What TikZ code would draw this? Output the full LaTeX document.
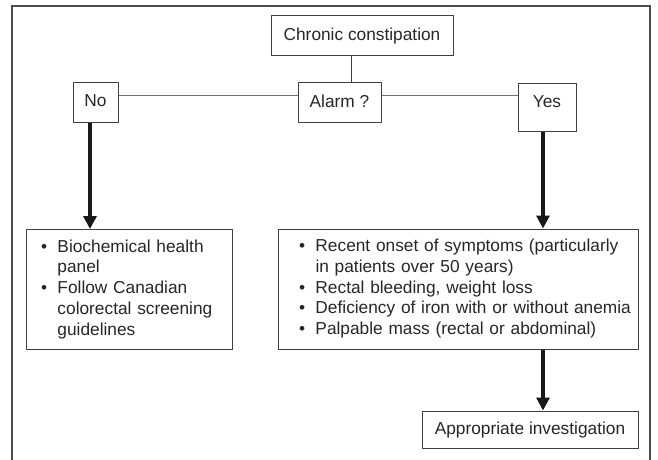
\documentclass[tikz,border=0pt]{standalone}
\usepackage{fontspec}
\setmainfont{Liberation Sans}
\usetikzlibrary{arrows.meta,positioning}

\begin{document}
\begin{tikzpicture}[x=1pt, y=-1pt,
  bx/.style={draw=black!75, line width=1pt, inner xsep=0pt, inner ysep=11.5pt,
    text height=13pt, text depth=4pt, text=black!85, font=\fontsize{17.3}{20.7}\selectfont},
  lst/.style={draw=black!75, line width=1pt, anchor=north west, align=left,
    minimum height=120pt, inner ysep=0pt, text=black!85, font=\fontsize{17.3}{20.7}\selectfont},
  lnk/.style={draw=black!55, line width=0.9pt},
  arr/.style={-{Triangle[length=13pt,width=13pt]}, line width=4pt, black!90}]
\useasboundingbox (0,0) rectangle (658,460);
% outer frame (open at the bottom)
\draw[black!70, line width=1.6pt] (12,460) -- (12,6) -- (650,6) -- (650,460);

\node[bx, minimum width=182pt] (chronic) at (362,36) {Chronic constipation};
\node[bx, minimum width=83pt] (alarm) at (339.5,102.5) {Alarm ?};
\node[bx, minimum width=45pt] (no) at (95.5,102) {No};
\node[bx, minimum width=58pt, text depth=12pt] (yes) at (547,107) {Yes};

\node[lst, inner xsep=14.5pt, text width=177pt] (panel) at (26,229) {%
  \begin{tabular}{@{}p{16.5pt}@{}l@{}}
  \textbullet & Biochemical health\\
              & panel\\
  \textbullet & Follow Canadian\\
              & colorectal screening\\
              & guidelines
  \end{tabular}};
\node[lst, inner xsep=20.5pt, text width=319pt] (redflag) at (278,228.5) {%
  \begin{tabular}{@{}p{16.5pt}@{}l@{}}
  \textbullet & Recent onset of symptoms (particularly\\
              & in patients over 50 years)\\
  \textbullet & Rectal bleeding, weight loss\\
  \textbullet & Deficiency of iron with or without anemia\\
  \textbullet & Palpable mass (rectal or abdominal)
  \end{tabular}};
\node[bx, minimum width=216pt, inner ysep=10pt] (invest) at (530,429.5) {Appropriate investigation};

% connectors
\coordinate (cdrop) at (351,0);
\coordinate (hline) at (0,95);
\draw[black!75, line width=0.9pt] (chronic.south -| cdrop) -- (alarm.north -| cdrop);
\draw[lnk] (no.east |- hline) -- (alarm.west |- hline);
\draw[lnk] (alarm.east |- hline) -- (yes.west |- hline);

\coordinate (ndrop) at ([xshift=-5.5pt]no.south);
\coordinate (ydrop) at ([xshift=-4pt]yes.south);
\draw[arr] (ndrop) -- (ndrop |- panel.north);
\draw[arr] (ydrop) -- (ydrop |- redflag.north);
\draw[arr] (ydrop |- redflag.south) -- (ydrop |- invest.north);
\end{tikzpicture}
\end{document}
